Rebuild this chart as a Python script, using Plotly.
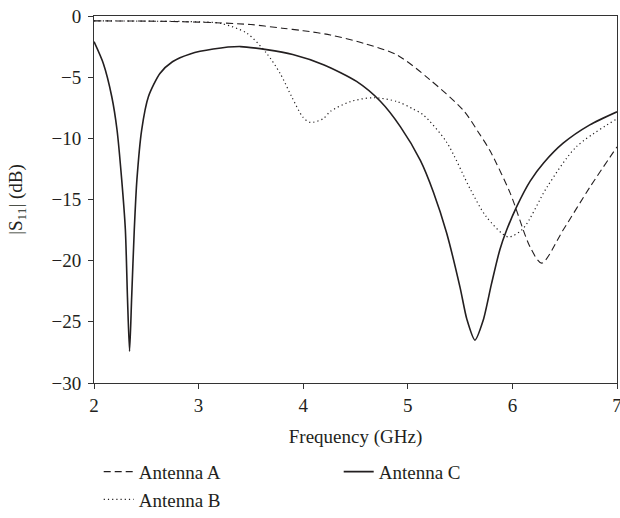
import plotly.graph_objects as go

freq_a = [2.0, 2.5, 3.0, 3.5, 3.8, 4.0, 4.26, 4.58, 4.9, 5.21, 5.53, 5.69, 5.785, 5.98, 6.17, 6.28, 6.485, 6.74, 7.0]
s11_a = [-0.4, -0.42, -0.5, -0.7, -1.0, -1.2, -1.55, -2.24, -3.2, -5.2, -7.7, -9.7, -11.0, -14.5, -18.9, -20.2, -17.5, -14.0, -10.7]

freq_b = [2.0, 2.5, 3.0, 3.21, 3.46, 3.65, 3.78, 3.89, 4.0, 4.07, 4.19, 4.26, 4.45, 4.67, 4.9, 5.05, 5.15, 5.37, 5.6, 5.75, 5.96, 6.1, 6.33, 6.61, 7.0]
s11_b = [-0.4, -0.42, -0.48, -0.6, -1.4, -3.05, -4.7, -6.6, -8.3, -8.7, -8.4, -7.8, -7.0, -6.68, -7.0, -7.6, -8.1, -10.3, -14.2, -16.4, -18.06, -17.4, -14.0, -10.7, -8.4]

freq_c = [2.0, 2.09, 2.17, 2.22, 2.265, 2.30, 2.32, 2.34, 2.36, 2.385, 2.41, 2.456, 2.52, 2.63, 2.75, 2.92, 3.14, 3.40,
          3.65, 3.90, 4.2, 4.51, 4.735, 4.93, 5.12, 5.245, 5.37, 5.50, 5.565, 5.642, 5.72, 5.80, 5.88, 5.945, 6.04, 6.17, 6.30, 6.485, 6.74, 7.0]
s11_c = [-2.1, -3.9, -6.6, -9.3, -13.4, -17.5, -23.0, -27.4, -23.0, -17.5, -13.4, -9.3, -6.6, -4.7, -3.74, -3.1, -2.7, -2.5,
         -2.75, -3.15, -4.0, -5.35, -6.95, -9.06, -11.8, -14.4, -17.7, -22.2, -24.8, -26.5, -24.9, -21.9, -19.1, -17.5, -15.6, -13.5, -12.0, -10.4, -8.9, -7.83]

x_ticks = [2, 3, 4, 5, 6, 7]
y_ticks = [0, -5, -10, -15, -20, -25, -30]

FONT = "Liberation Serif"
INK = "#231f20"
FS = 19

fig = go.Figure()
fig.add_trace(go.Scatter(x=freq_a, y=s11_a, mode="lines", name="Antenna A",
                         line=dict(color=INK, width=1.1, dash="7px,4px", shape="spline", smoothing=0.8)))
fig.add_trace(go.Scatter(x=freq_c, y=s11_c, mode="lines", name="Antenna C",
                         line=dict(color=INK, width=1.6, shape="spline", smoothing=0.7)))
fig.add_trace(go.Scatter(x=freq_b, y=s11_b, mode="lines", name="Antenna B",
                         line=dict(color=INK, width=1.2, dash="1.2px,3px", shape="spline", smoothing=0.8)))

axis_common = dict(showgrid=False, zeroline=False, showline=True, linecolor="#333", linewidth=1,
                   mirror=True, ticks="outside", ticklen=5, tickwidth=1, tickcolor="#333",
                   ticklabeloverflow="allow", automargin=False,
                   tickfont=dict(family=FONT, size=FS, color=INK))

fig.update_xaxes(range=[2, 7], tickvals=x_ticks, **axis_common, ticklabelstandoff=0,
                 title=dict(text="Frequency (GHz)", font=dict(family=FONT, size=FS, color=INK), standoff=14))
fig.update_yaxes(range=[-30, 0], tickvals=y_ticks, **axis_common, ticklabelstandoff=3,
                 title=dict(text="|S<sub>11</sub>| (dB)", font=dict(family=FONT, size=FS, color=INK), standoff=23))

fig.update_layout(
    width=620, height=518,
    margin=dict(l=94, r=3, t=16, b=135, autoexpand=False),
    paper_bgcolor="white", plot_bgcolor="white",
    font=dict(family=FONT, size=FS, color=INK),
    legend=dict(orientation="h", x=0.009, xanchor="left", y=-0.19, yanchor="top",
                entrywidth=195, entrywidthmode="pixels", traceorder="normal",
                font=dict(family=FONT, size=FS, color=INK), tracegroupgap=0),
)

fig.write_html("out.html")
